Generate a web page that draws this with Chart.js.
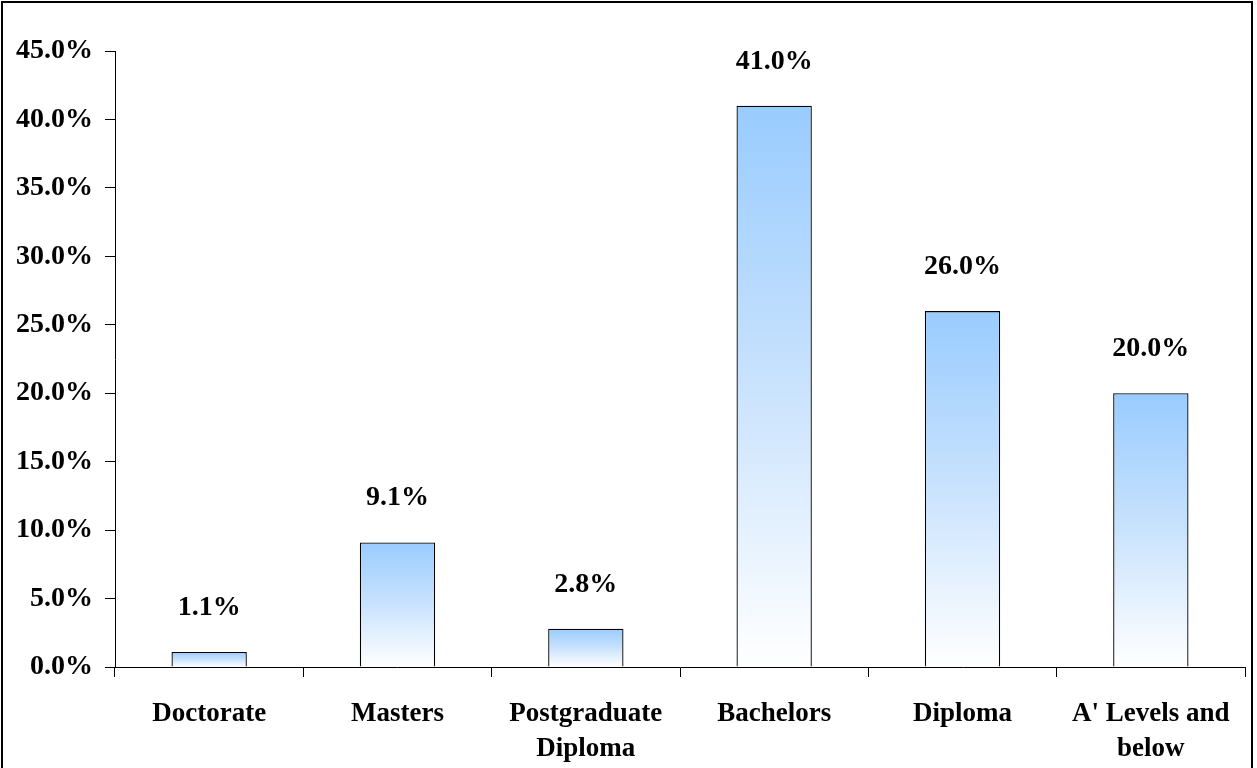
<!DOCTYPE html>
<html>
<head>
<meta charset="utf-8">
<script src="https://cdn.jsdelivr.net/npm/chart.js@4/dist/chart.umd.min.js"></script>
<style>
  html, body { margin: 0; padding: 0; background: #ffffff; }
  #wrap { width: 1257px; height: 768px; position: relative; }
</style>
</head>
<body>
<div id="wrap"><canvas id="c" width="1257" height="768"></canvas></div>
<script>
const categories = [
  "Doctorate",
  "Masters",
  ["Postgraduate", "Diploma"],
  "Bachelors",
  "Diploma",
  ["A' Levels and", "below"]
];
const shares = [1.1, 9.1, 2.8, 41.0, 26.0, 20.0];
const yTickMin = 0;
const yTickMax = 45;
const yTickStep = 5;

const FONT = "'Liberation Serif', 'Times New Roman', serif";

const frame = {
  id: 'frame',
  beforeDraw(chart) {
    const c = chart.ctx;
    c.save();
    c.fillStyle = '#ffffff';
    c.fillRect(0, 0, chart.width, chart.height);
    c.strokeStyle = '#000000';
    c.lineWidth = 2;
    c.strokeRect(2, 2, 1250, 780);
    c.restore();
  }
};

const valueLabels = {
  id: 'valueLabels',
  afterDatasetsDraw(chart) {
    const c = chart.ctx;
    const meta = chart.getDatasetMeta(0);
    c.save();
    c.font = "bold 28px " + FONT;
    c.fillStyle = '#000000';
    c.textAlign = 'center';
    c.textBaseline = 'alphabetic';
    meta.data.forEach((el, i) => {
      c.fillText(shares[i].toFixed(1) + '%', el.x, el.y - 37);
    });
    c.restore();
  }
};

new Chart(document.getElementById('c'), {
  type: 'bar',
  data: {
    labels: categories,
    datasets: [{
      data: shares,
      backgroundColor(ctx) {
        const chart = ctx.chart;
        const ys = chart.scales && chart.scales.y;
        if (!chart.chartArea || !ys) return '#99ccff';
        const top = ys.getPixelForValue(shares[ctx.dataIndex]);
        const base = ys.getPixelForValue(0);
        if (!isFinite(top) || !isFinite(base) || top === base) return '#99ccff';
        const g = chart.ctx.createLinearGradient(0, top, 0, base);
        g.addColorStop(0, '#99ccff');
        g.addColorStop(0.45, '#c4e0fd');
        g.addColorStop(1, '#ffffff');
        return g;
      },
      borderColor: '#000000',
      borderWidth: 1.3,
      borderSkipped: 'bottom',
      barPercentage: 0.4,
      categoryPercentage: 1.0
    }]
  },
  options: {
    responsive: false,
    animation: false,
    devicePixelRatio: 1,
    layout: { padding: { top: 51, right: 12, left: 0, bottom: 0 } },
    plugins: {
      legend: { display: false },
      tooltip: { enabled: false },
      title: { display: false }
    },
    scales: {
      x: {
        offset: true,
        grid: {
          display: true,
          offset: true,
          drawOnChartArea: false,
          drawTicks: true,
          tickLength: 10,
          color: '#000000'
        },
        border: { display: true, color: '#000000', width: 1 },
        ticks: {
          color: '#000000',
          padding: 19,
          maxRotation: 0,
          autoSkip: false,
          font: { family: FONT, size: 27, weight: 'bold', lineHeight: 1.3 }
        },
        afterFit(s) { s.height = 101; }
      },
      y: {
        min: yTickMin,
        max: yTickMax,
        grid: {
          display: true,
          drawOnChartArea: false,
          drawTicks: true,
          tickLength: 10,
          color: '#000000'
        },
        border: { display: true, color: '#000000', width: 1 },
        ticks: {
          stepSize: yTickStep,
          color: '#000000',
          padding: 12,
          font: { family: FONT, size: 28, weight: 'bold' },
          callback: (v) => Number(v).toFixed(1) + '%'
        },
        afterFit(s) { s.width = 115; }
      }
    }
  },
  plugins: [frame, valueLabels]
});
</script>
</body>
</html>
